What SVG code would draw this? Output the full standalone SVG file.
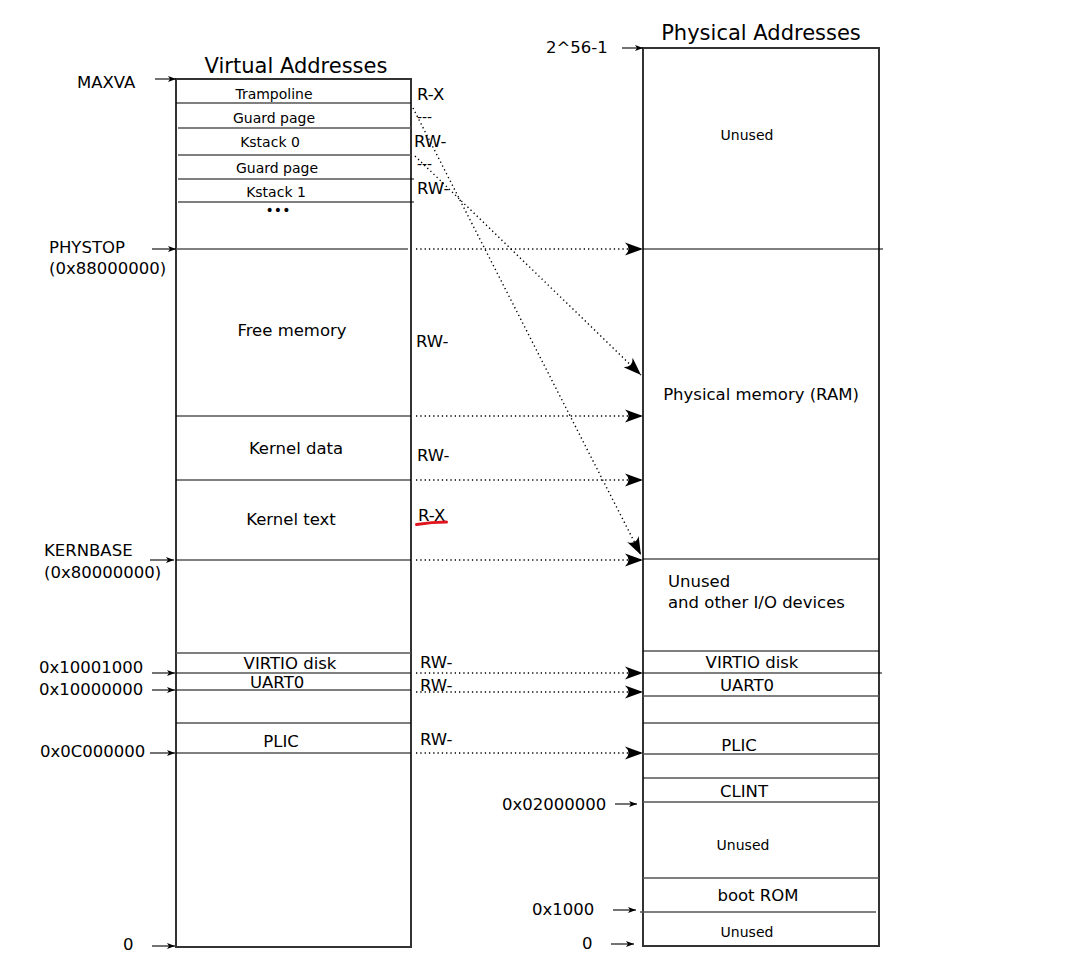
<svg xmlns="http://www.w3.org/2000/svg" width="1065" height="978" viewBox="0 0 1065 978">
<defs>
<marker id="big" markerUnits="userSpaceOnUse" markerWidth="22" markerHeight="16" refX="0" refY="0" viewBox="-20 -8 22 16" orient="auto">
<path d="M0,0 L-18,-6.5 Q-11,0 -18,6.5 Z" fill="#000"/>
</marker>
<marker id="sm" markerUnits="userSpaceOnUse" markerWidth="10" markerHeight="8" refX="0" refY="0" viewBox="-9 -4 10 8" orient="auto">
<path d="M0,0 L-8,-3 L-6,0 L-8,3 Z" fill="#000"/>
</marker>
</defs>
<style>
text{font-family:"DejaVu Sans","Noto Sans",sans-serif;fill:#000}
.t{font-size:21px}
.l{font-size:16.5px}
.s{font-size:14px}
.m{text-anchor:middle}
.box{fill:none;stroke:#333;stroke-width:2}
.ln{stroke:#000;stroke-width:1.1;fill:none}
.gl{stroke:#555;stroke-width:1.3;fill:none}
.lab{stroke:#000;stroke-width:1.1;fill:none;marker-end:url(#sm)}
.dot{stroke:#000;stroke-width:1.4;fill:none;stroke-dasharray:1.3 3;marker-end:url(#big)}
</style>
<rect width="1065" height="978" fill="#fff"/>

<g id="virtual">
<text class="t m" x="296" y="73">Virtual Addresses</text>
<rect class="box" x="176" y="79" width="235" height="868"/>
<line class="ln" x1="176" y1="103" x2="411" y2="103"/>
<line class="gl" x1="178" y1="128" x2="411" y2="128"/>
<line class="gl" x1="178" y1="155" x2="411" y2="155"/>
<line class="ln" x1="178" y1="179" x2="414" y2="179"/>
<line class="ln" x1="178" y1="202" x2="414" y2="202"/>
<line class="gl" x1="176" y1="249" x2="408" y2="249"/>
<line class="ln" x1="176" y1="416" x2="411" y2="416"/>
<line class="ln" x1="176" y1="480" x2="411" y2="480"/>
<line class="ln" x1="176" y1="560" x2="411" y2="560"/>
<line class="gl" x1="176" y1="653" x2="411" y2="653"/>
<line class="ln" x1="176" y1="673" x2="411" y2="673"/>
<line class="ln" x1="176" y1="690" x2="411" y2="690"/>
<line class="ln" x1="176" y1="723" x2="411" y2="723"/>
<line class="ln" x1="176" y1="753" x2="411" y2="753"/>
<text class="s m" x="274" y="99">Trampoline</text>
<text class="s m" x="274" y="123">Guard page</text>
<text class="s m" x="270" y="147">Kstack 0</text>
<text class="s m" x="277" y="173">Guard page</text>
<text class="s m" x="276" y="197">Kstack 1</text>
<text class="s m" x="278" y="215">•••</text>
<text class="l m" x="292" y="336">Free memory</text>
<text class="l m" x="296" y="454">Kernel data</text>
<text class="l m" x="291" y="525">Kernel text</text>
<text class="l m" x="290" y="669">VIRTIO disk</text>
<text class="l" x="250" y="688">UART0</text>
<text class="l m" x="281" y="747">PLIC</text>
</g>

<g id="perms">
<text class="l" x="417" y="100">R-X</text>
<text class="s" x="417" y="122">---</text>
<text class="l" x="414" y="147">RW-</text>
<text class="s" x="417" y="169">---</text>
<text class="l" x="417" y="194">RW-</text>
<text class="l" x="416" y="347">RW-</text>
<text class="l" x="417" y="461">RW-</text>
<text class="l" x="418" y="521">R-X</text>
<path d="M416.5,524.5 Q432,522 446.5,522" stroke="#e0141e" stroke-width="3" fill="none" stroke-linecap="round"/>
<text class="l" x="420" y="668">RW-</text>
<text class="l" x="420" y="691">RW-</text>
<text class="l" x="420" y="745">RW-</text>
</g>

<g id="vlabels">
<text class="l" x="77" y="88">MAXVA</text>
<line class="lab" x1="155" y1="79" x2="176" y2="79"/>
<text class="l" x="49" y="253">PHYSTOP</text>
<text class="l" x="49" y="274">(0x88000000)</text>
<line class="lab" x1="152" y1="249" x2="176" y2="249"/>
<text class="l" x="44" y="556">KERNBASE</text>
<text class="l" x="44" y="578">(0x80000000)</text>
<line class="lab" x1="150" y1="560" x2="174" y2="560"/>
<text class="l" x="39" y="673">0x10001000</text>
<line class="lab" x1="152" y1="673" x2="175" y2="673"/>
<text class="l" x="39" y="695">0x10000000</text>
<line class="lab" x1="152" y1="690" x2="175" y2="690"/>
<text class="l" x="40" y="757">0x0C000000</text>
<line class="lab" x1="150" y1="753" x2="175" y2="753"/>
<text class="l" x="123" y="950">0</text>
<line class="lab" x1="152" y1="946" x2="175" y2="946"/>
</g>

<g id="physical">
<text class="t m" x="761" y="40">Physical Addresses</text>
<rect class="box" x="643" y="48" width="236" height="898"/>
<line class="ln" x1="643" y1="249" x2="883" y2="249"/>
<line class="ln" x1="643" y1="559" x2="879" y2="559"/>
<line class="ln" x1="643" y1="651" x2="879" y2="651"/>
<line class="ln" x1="643" y1="673" x2="882" y2="673"/>
<line class="gl" x1="643" y1="696" x2="879" y2="696"/>
<line class="ln" x1="643" y1="723" x2="879" y2="723"/>
<line class="gl" x1="643" y1="754" x2="879" y2="754"/>
<line class="ln" x1="643" y1="778" x2="879" y2="778"/>
<line class="gl" x1="643" y1="802" x2="879" y2="802"/>
<line class="gl" x1="643" y1="878" x2="879" y2="878"/>
<line class="gl" x1="640" y1="912" x2="876" y2="912"/>
<text class="s m" x="747" y="140">Unused</text>
<text class="l m" x="761" y="400">Physical memory (RAM)</text>
<text class="l" x="668" y="587">Unused</text>
<text class="l" x="668" y="608">and other I/O devices</text>
<text class="l m" x="752" y="668">VIRTIO disk</text>
<text class="l m" x="747" y="691">UART0</text>
<text class="l m" x="739" y="751">PLIC</text>
<text class="l m" x="744" y="797">CLINT</text>
<text class="s m" x="743" y="850">Unused</text>
<text class="l m" x="758" y="901">boot ROM</text>
<text class="s m" x="747" y="937">Unused</text>
</g>

<g id="plabels">
<text class="l" x="546" y="53">2^56-1</text>
<line class="lab" x1="622" y1="48" x2="643" y2="48"/>
<text class="l" x="502" y="810">0x02000000</text>
<line class="lab" x1="615" y1="804" x2="637" y2="804"/>
<text class="l" x="532" y="915">0x1000</text>
<line class="lab" x1="613" y1="910" x2="636" y2="910"/>
<text class="l" x="582" y="949">0</text>
<line class="lab" x1="611" y1="944" x2="634" y2="944"/>
</g>

<g id="connectors">
<line class="dot" x1="416" y1="249" x2="643" y2="249"/>
<line class="dot" x1="416" y1="416" x2="643" y2="416"/>
<line class="dot" x1="416" y1="480" x2="643" y2="480"/>
<line class="dot" x1="416" y1="560" x2="643" y2="560"/>
<line class="dot" x1="416" y1="673" x2="643" y2="673"/>
<line class="dot" x1="416" y1="692" x2="643" y2="692"/>
<line class="dot" x1="416" y1="753" x2="643" y2="753"/>
<line class="dot" x1="413" y1="108" x2="641" y2="555"/>
<line class="dot" x1="415" y1="156" x2="641" y2="375"/>
</g>
</svg>
